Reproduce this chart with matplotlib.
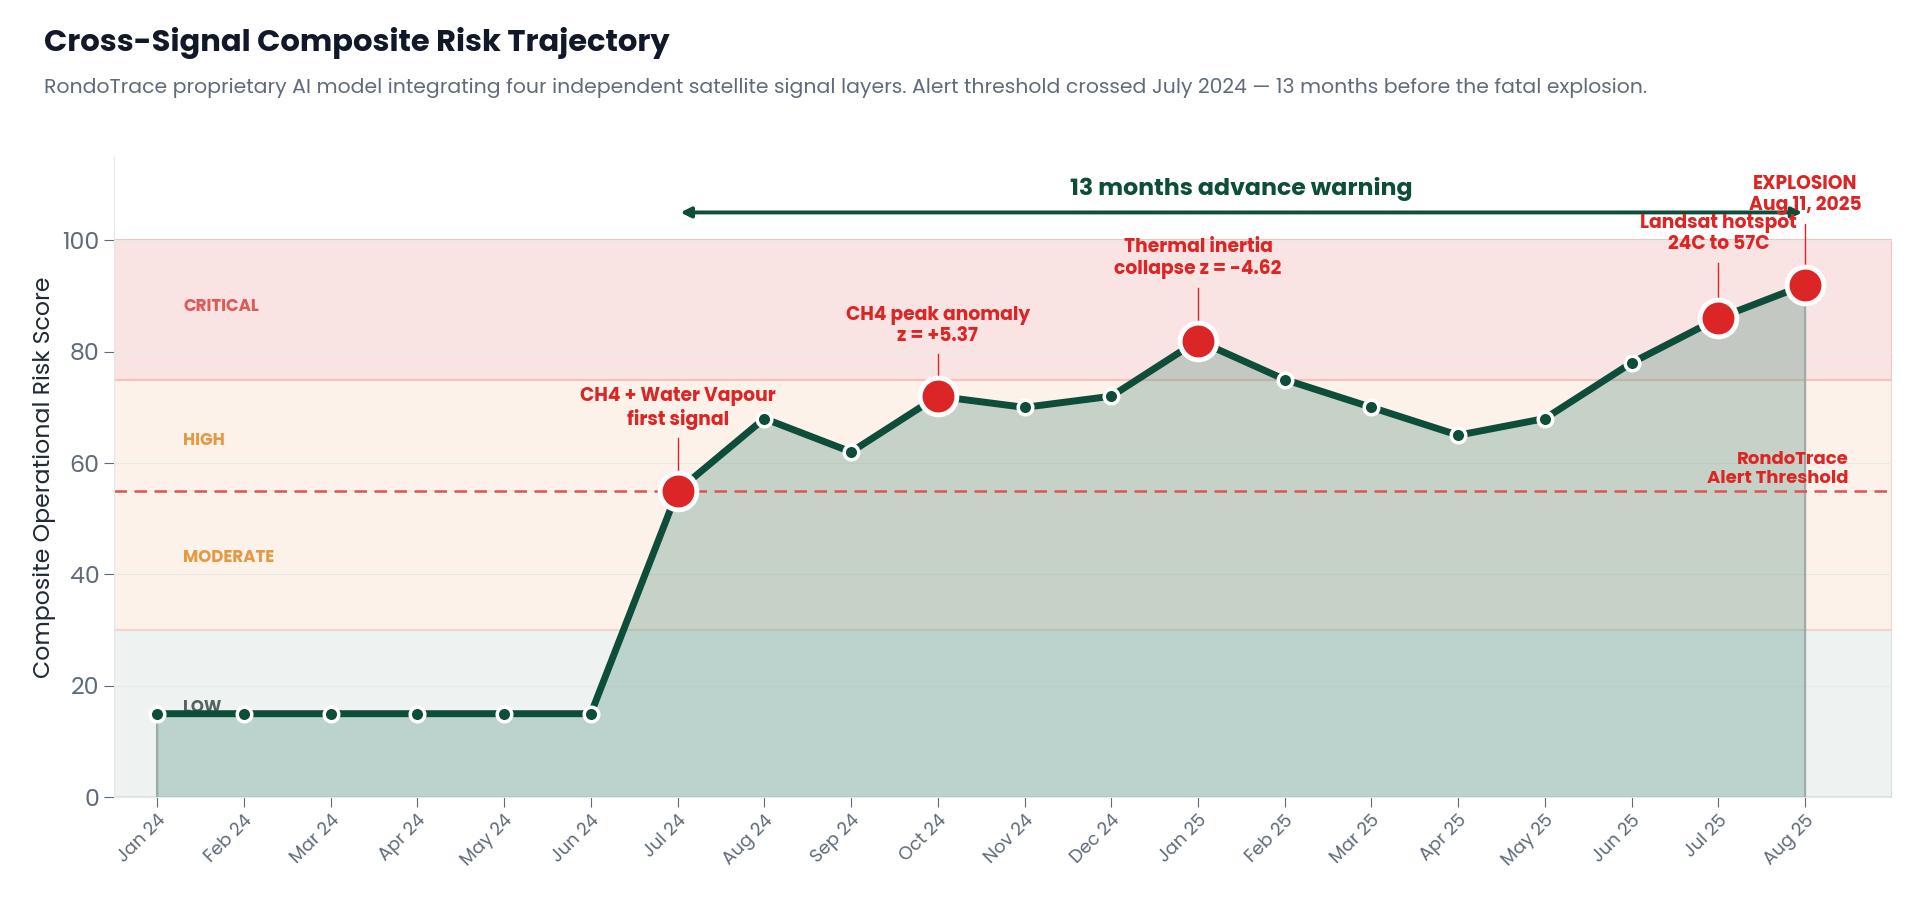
import matplotlib.pyplot as plt
import matplotlib.patches as mpatches

plt.rcParams['font.family'] = ['Poppins', 'Inter', 'DejaVu Sans']

months = ['Jan 24', 'Feb 24', 'Mar 24', 'Apr 24', 'May 24', 'Jun 24', 'Jul 24', 'Aug 24',
          'Sep 24', 'Oct 24', 'Nov 24', 'Dec 24', 'Jan 25', 'Feb 25', 'Mar 25', 'Apr 25',
          'May 25', 'Jun 25', 'Jul 25', 'Aug 25']
risk = [15, 15, 15, 15, 15, 15, 55, 68, 62, 72, 70, 72, 82, 75, 70, 65, 68, 78, 86, 92]

# key events: (index, label, label y)
events = [
    (6, 'CH4 + Water Vapour\nfirst signal', 66),
    (9, 'CH4 peak anomaly\nz = +5.37', 81),
    (12, 'Thermal inertia\ncollapse z = -4.62', 93),
    (18, 'Landsat hotspot\n24C to 57C', 97.5),
    (19, 'EXPLOSION\nAug 11, 2025', 104.5),
]
threshold = 55
bands = [(0, 30, '#eef3f2', '#d9e3e1'), (30, 75, '#fcf2ea', '#f2d5cc'), (75, 100, '#f9e4e3', '#f5c2bd')]
band_labels = [('LOW', 16, '#51665f'), ('MODERATE', 43, '#e39a45'), ('HIGH', 64, '#e39a45'),
               ('CRITICAL', 88, '#de5a55')]

green = '#0d4d3a'
red = '#dc2626'
grey = '#5f6b7a'

W, H = 1568, 739
fig = plt.figure(figsize=(19.2, 9.05), dpi=100)
ax = fig.add_axes([93 / W, 1 - 651 / H, (1545 - 93) / W, (651 - 128) / H])
ax.set_xlim(-0.5, 20)
ax.set_ylim(0, 115)

for lo, hi, fc, ec in bands:
    ax.add_patch(mpatches.Rectangle((-0.5, lo), 20.5, hi - lo, facecolor=fc, edgecolor=ec,
                                    linewidth=1.5, zorder=0))
for txt, y, c in band_labels:
    ax.text(0.3, y, txt, color=c, fontsize=12, fontweight='bold', va='center', zorder=1)

for y in [20, 40, 60, 80, 100]:
    ax.axhline(y, color='#e9e9e9', linewidth=0.8, zorder=0.5)

x = list(range(len(months)))
ax.fill_between(x, risk, color='#4a8a78', alpha=0.3, zorder=2)
ax.plot([x[-1], x[-1]], [0, risk[-1]], color='#a0aaa8', linewidth=1.5, zorder=2)
ax.plot([0, 0], [0, risk[0]], color='#a0aaa8', linewidth=1.5, zorder=2)
ax.plot(x, risk, color=green, linewidth=5, zorder=3)
ax.scatter(x, risk, s=110, color=green, edgecolors='white', linewidths=2.5, zorder=4)

ax.axhline(threshold, color='#e05252', linestyle='--', linewidth=1.8, dashes=(5, 3), zorder=2.5)
ax.text(19.5, threshold + 0.5, 'RondoTrace\nAlert Threshold', color=red, fontsize=13,
        fontweight='bold', ha='right', va='bottom', linespacing=1.1, zorder=5)

for i, label, ly in events:
    ax.scatter([i], [risk[i]], s=700, color=red, edgecolors='white', linewidths=3.5, zorder=5)
    ax.plot([i, i], [risk[i] + 3.5, ly - 1.5], color=red, linewidth=1, zorder=4)
    ax.text(i, ly, label, color=red, fontsize=13.5, fontweight='bold', ha='center', va='bottom',
            linespacing=1.15, zorder=6)

ax.annotate('', xy=(6, 105), xytext=(19, 105),
            arrowprops=dict(arrowstyle='<|-|>', color=green, lw=2.8, mutation_scale=15))
ax.text(12.5, 107, '13 months advance warning', color=green, fontsize=17, fontweight='bold',
        ha='center', va='bottom')

ax.set_xticks(x)
ax.set_xticklabels(months, rotation=45, ha='right', rotation_mode='anchor', fontsize=13, color=grey)
ax.set_yticks([0, 20, 40, 60, 80, 100])
ax.tick_params(axis='y', labelsize=17, colors=grey, length=7, color=grey)
ax.tick_params(axis='x', length=7, color=grey)
ax.set_ylabel('Composite Operational Risk Score', fontsize=17, color='#1f2937')
for s in ['top', 'right']:
    ax.spines[s].set_visible(False)
for s in ['left', 'bottom']:
    ax.spines[s].set_color('#e5e7eb')

fig.text(36 / W, 1 - 35 / H, 'Cross-Signal Composite Risk Trajectory', fontsize=22,
         fontweight='bold', color='#111827', va='center')
fig.text(36 / W, 1 - 72 / H,
         'RondoTrace proprietary AI model integrating four independent satellite signal layers. '
         'Alert threshold crossed July 2024 \u2014 13 months before the fatal explosion.',
         fontsize=14.7, color=grey, va='center')

fig.savefig('out.png', dpi=100)
